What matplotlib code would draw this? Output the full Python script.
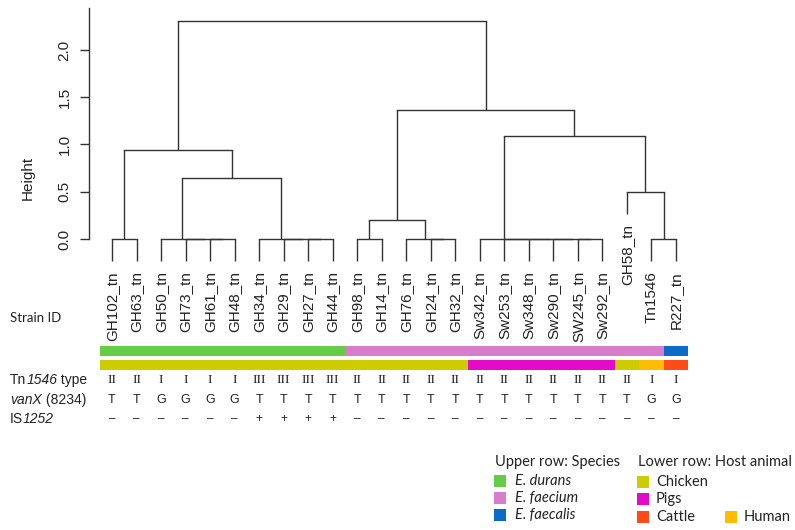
import matplotlib
matplotlib.use('Agg')
import matplotlib.pyplot as plt
from matplotlib import transforms
from matplotlib.patches import Rectangle

# leaf order of the dendrogram
leaves = ['GH102_tn', 'GH63_tn', 'GH50_tn', 'GH73_tn', 'GH61_tn', 'GH48_tn',
          'GH34_tn', 'GH29_tn', 'GH27_tn', 'GH44_tn', 'GH98_tn', 'GH14_tn',
          'GH76_tn', 'GH24_tn', 'GH32_tn', 'Sw342_tn', 'Sw253_tn', 'Sw348_tn',
          'Sw290_tn', 'SW245_tn', 'Sw292_tn', 'GH58_tn', 'Tn1546', 'R227_tn']

# merges: (child a, child b, height); 'mK' refers to the K-th merge
merges = [
    ('GH102_tn', 'GH63_tn', 0.0),
    ('GH61_tn', 'GH48_tn', 0.0),
    ('GH73_tn', 'm1', 0.0),
    ('GH50_tn', 'm2', 0.0),
    ('GH27_tn', 'GH44_tn', 0.0),
    ('GH29_tn', 'm4', 0.0),
    ('GH34_tn', 'm5', 0.0),
    ('m3', 'm6', 0.645),
    ('m0', 'm7', 0.94),
    ('GH98_tn', 'GH14_tn', 0.0),
    ('GH24_tn', 'GH32_tn', 0.0),
    ('GH76_tn', 'm10', 0.0),
    ('m9', 'm11', 0.20),
    ('SW245_tn', 'Sw292_tn', 0.0),
    ('Sw290_tn', 'm13', 0.0),
    ('Sw348_tn', 'm14', 0.0),
    ('Sw253_tn', 'm15', 0.0),
    ('Sw342_tn', 'm16', 0.0),
    ('Tn1546', 'R227_tn', 0.0),
    ('GH58_tn', 'm18', 0.495),
    ('m17', 'm19', 1.09),
    ('m12', 'm20', 1.37),
    ('m8', 'm21', 2.31),
]

species = ['E. durans'] * 10 + ['E. faecium'] * 13 + ['E. faecalis']
hosts = ['Chicken'] * 15 + ['Pigs'] * 6 + ['Chicken', 'Human', 'Cattle']
tn_type = ['II', 'II', 'I', 'I', 'I', 'I', 'III', 'III', 'III', 'III',
           'II', 'II', 'II', 'II', 'II', 'II', 'II', 'II', 'II', 'II', 'II',
           'II', 'I', 'I']
vanx = ['T', 'T', 'G', 'G', 'G', 'G', 'T', 'T', 'T', 'T', 'T', 'T', 'T', 'T',
        'T', 'T', 'T', 'T', 'T', 'T', 'T', 'T', 'G', 'G']
is1252 = ['–'] * 6 + ['+'] * 4 + ['–'] * 14

species_colors = {'E. durans': '#64cc46', 'E. faecium': '#d87ccc',
                  'E. faecalis': '#0a6cc8'}
host_colors = {'Chicken': '#cccc00', 'Pigs': '#e40ac8',
               'Cattle': '#ff4a1a', 'Human': '#ffbc00'}

W, H = 795, 530
LINE = '#333333'
TXT = '#222222'
SANS = 'Liberation Sans'
CAL = 'Lato'


def fy(py):
    return 1 - py / H


fig = plt.figure(figsize=(W / 100, H / 100), dpi=100)
# axes placed so that leaf 0 sits at x=112 px, height 0 at y=239 px
ax = fig.add_axes([89 / W, fy(267.35), 601.7 / W, 259.9 / H])
ax.set_xlim(-0.938, 23.6)
ax.set_ylim(-0.3, 2.45)
for s in ['top', 'right', 'bottom']:
    ax.spines[s].set_visible(False)
ax.spines['left'].set_bounds(0, 2.44)
ax.spines['left'].set_color(LINE)
ax.spines['left'].set_linewidth(1.0)
ax.set_xticks([])
ax.set_yticks([0, 0.5, 1.0, 1.5, 2.0])
ax.set_yticklabels(['0.0', '0.5', '1.0', '1.5', '2.0'])
ax.tick_params(axis='y', length=6.5, width=1.0, color=LINE, pad=6, labelsize=11)
for lab in ax.get_yticklabels():
    lab.set_rotation(90)
    lab.set_va('center')
    lab.set_family(SANS)
    lab.set_color(TXT)
fig.text(28 / W, fy(178), 'Height', rotation=90, ha='center', va='center',
         fontsize=11, family=SANS, color=TXT)

# dendrogram
pos = {name: i for i, name in enumerate(leaves)}
top = {}
leaf_end = {}
hang = 0.1 * max(m[2] for m in merges)
for k, (a, b, h) in enumerate(merges):
    for c in (a, b):
        if c in leaves:
            bottom = h - hang
            leaf_end[c] = bottom
        else:
            bottom = top[c]
        ax.plot([pos[c], pos[c]], [bottom, h], color=LINE, lw=1.0,
                solid_capstyle='butt')
    ax.plot([pos[a], pos[b]], [h, h], color=LINE, lw=1.0)
    pos[f'm{k}'] = (pos[a] + pos[b]) / 2
    top[f'm{k}'] = h

for name in leaves:
    ax.text(pos[name], leaf_end[name] - 0.11, name, rotation=90, ha='center',
            va='top', fontsize=11, family=SANS, color=TXT, clip_on=False)

# colour bars and annotation rows
trans = transforms.blended_transform_factory(ax.transData, fig.transFigure)
for i in range(len(leaves)):
    ax.add_patch(Rectangle((i - 0.5, fy(356)), 1, 10 / H, transform=trans,
                           color=species_colors[species[i]], lw=0, clip_on=False))
    ax.add_patch(Rectangle((i - 0.5, fy(370)), 1, 10 / H, transform=trans,
                           color=host_colors[hosts[i]], lw=0, clip_on=False))
    ax.text(i, fy(380), tn_type[i], transform=trans, ha='center', va='center',
            fontsize=9.5, family='Liberation Serif', color=TXT)
    ax.text(i, fy(400), vanx[i], transform=trans, ha='center', va='center',
            fontsize=9, family=SANS, color=TXT)
    ax.text(i, fy(419), is1252[i], transform=trans, ha='center', va='center',
            fontsize=8.5, family=SANS, color=TXT)

fig.text(10 / W, fy(318), 'Strain ID', ha='left', va='center', fontsize=9.5,
         family=CAL, color=TXT)

# row labels with italic parts, chained with annotate so pieces sit side by side
row_labels = [
    (380, [('Tn', 'normal'), ('1546', 'italic'), (' type', 'normal')]),
    (400, [('vanX', 'italic'), (' (8234)', 'normal')]),
    (419, [('IS', 'normal'), ('1252', 'italic')]),
]
for yp, parts in row_labels:
    prev = fig.text(10 / W, fy(yp), parts[0][0], ha='left', va='center',
                    fontsize=10, family=SANS, style=parts[0][1], color=TXT)
    for txt, st in parts[1:]:
        prev = ax.annotate(txt, xy=(1, 0), xycoords=prev, ha='left',
                           va='bottom', fontsize=10, family=SANS, style=st,
                           color=TXT, annotation_clip=False)

# legend
fig.text(495 / W, fy(462), 'Upper row: Species', ha='left', va='center',
         fontsize=10.5, family=CAL, color=TXT)
for name, yc in zip(['E. durans', 'E. faecium', 'E. faecalis'], [481, 498, 515]):
    fig.patches.append(Rectangle((494 / W, fy(yc + 6)), 12 / W, 12 / H,
                                 transform=fig.transFigure,
                                 color=species_colors[name], lw=0))
    fig.text(515 / W, fy(yc), name, ha='left', va='center', fontsize=10.5,
             family=CAL, style='italic', color=TXT)

fig.text(638 / W, fy(462), 'Lower row: Host animal', ha='left', va='center',
         fontsize=10.5, family=CAL, color=TXT)
for name, xs, yc in [('Chicken', 637, 482), ('Pigs', 637, 499),
                     ('Cattle', 637, 517), ('Human', 725, 517)]:
    fig.patches.append(Rectangle((xs / W, fy(yc + 6)), 12 / W, 12 / H,
                                 transform=fig.transFigure,
                                 color=host_colors[name], lw=0))
    fig.text((xs + 19) / W, fy(yc), name, ha='left', va='center', fontsize=10.5,
             family=CAL, color=TXT)

fig.savefig('out.png', dpi=100)
